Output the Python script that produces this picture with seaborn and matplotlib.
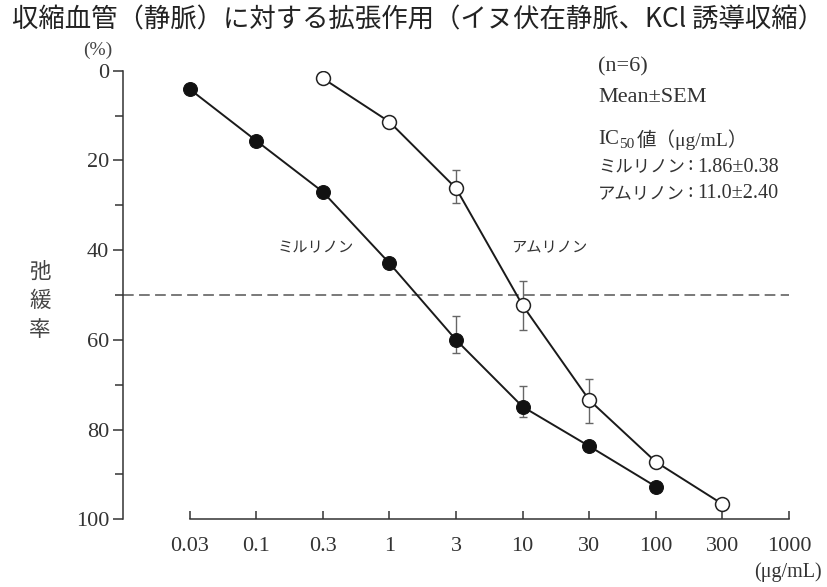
import matplotlib
matplotlib.use("Agg")
import matplotlib.pyplot as plt
import seaborn as sns
import pandas as pd

# doses (equally spaced on the chart)
doses = ["0.03", "0.1", "0.3", "1", "3", "10", "30", "100", "300", "1000"]

# milrinone (filled circles): 0.03 .. 100
mil_dose_idx = [0, 1, 2, 3, 4, 5, 6, 7]
mil_mean = [4.1, 15.6, 27.0, 42.9, 60.0, 74.9, 83.7, 92.7]
mil_err_low = [0, 0, 0, 0, 5.4, 4.6, 0, 0]
mil_err_high = [0, 0, 0, 0, 2.9, 2.2, 0, 0]

# amrinone (open circles): 0.3 .. 300
amr_dose_idx = [2, 3, 4, 5, 6, 7, 8]
amr_mean = [1.7, 11.4, 26.2, 52.3, 73.4, 87.2, 96.6]
amr_err_low = [0, 0, 4.1, 5.4, 4.7, 0, 0]
amr_err_high = [0, 0, 3.2, 5.4, 5.2, 0, 0]

W, H = 828, 587
sns.set_style("ticks")
plt.rcParams["font.family"] = ["Liberation Serif", "Noto Sans CJK JP", "DejaVu Sans"]
JP = ["Noto Sans CJK JP"]
TXT = "#333333"

fig = plt.figure(figsize=(W / 100, H / 100), dpi=100)
ax = fig.add_axes([123 / W, 1 - 519.3 / H, (789 - 123) / W, (519.3 - 70.7) / H])

mil = pd.DataFrame({"dose": mil_dose_idx, "rate": mil_mean})
amr = pd.DataFrame({"dose": amr_dose_idx, "rate": amr_mean})

# error bars behind the markers
ax.errorbar(mil_dose_idx, mil_mean, yerr=[mil_err_low, mil_err_high], fmt="none",
            ecolor="#666666", elinewidth=1, capsize=3, capthick=1, zorder=1)
ax.errorbar(amr_dose_idx, amr_mean, yerr=[amr_err_low, amr_err_high], fmt="none",
            ecolor="#666666", elinewidth=1, capsize=3, capthick=1, zorder=1)

sns.lineplot(data=mil, x="dose", y="rate", ax=ax, color="#1a1a1a", lw=1.4,
             marker="o", markersize=10, markerfacecolor="#111111",
             markeredgecolor="#111111", zorder=3)
sns.lineplot(data=amr, x="dose", y="rate", ax=ax, color="#1a1a1a", lw=1.4,
             marker="o", markersize=10, markerfacecolor="white",
             markeredgecolor="#222222", markeredgewidth=1.1, zorder=3)

ax.axhline(50, color="#555555", lw=1.1, dashes=(7, 3.5), zorder=0)

ax.set_xlim(-1, 9)
ax.set_ylim(100, 0)
ax.set_xticks(range(len(doses)))
ax.set_xticklabels(doses)
ax.set_yticks([0, 20, 40, 60, 80, 100])
ax.set_yticks([10, 30, 50, 70, 90], minor=True)
ax.tick_params(axis="y", which="major", direction="out", length=7, width=1.1,
               labelsize=16, pad=3, colors=TXT)
ax.tick_params(axis="y", which="minor", direction="out", length=6, width=1.1,
               colors=TXT)
ax.tick_params(axis="x", direction="in", length=6, width=1.1, labelsize=16,
               pad=13, colors=TXT)
ax.set_xlabel("")
ax.set_ylabel("")
sns.despine(ax=ax)
ax.spines["bottom"].set_bounds(0, 9)
for s in ("left", "bottom"):
    ax.spines[s].set_color(TXT)
    ax.spines[s].set_linewidth(1.1)


def ftext(x, y, s, **kw):
    kw.setdefault("color", TXT)
    kw.setdefault("va", "center")
    return fig.text(x / W, 1 - y / H, s, **kw)


# title and axis texts
ftext(W / 2 + 4, 20, "収縮血管（静脈）に対する拡張作用（イヌ伏在静脈、KCl 誘導収縮）",
      ha="center", fontsize=19, color="#222222", family=JP)
ftext(98, 50, "(%)", ha="center", fontsize=14, color="#444444")
ftext(40, 301, "弛\n緩\n率", ha="center", fontsize=15.5, color="#444444",
      linespacing=1.4, family=JP)
ftext(788, 572, "(μg/mL)", ha="center", fontsize=14.5)

# series labels
ax.text(1.9, 39.5, "ミルリノン", ha="center", va="center", fontsize=11,
        color=TXT, family=JP)
ax.text(5.4, 39.5, "アムリノン", ha="center", va="center", fontsize=11,
        color=TXT, family=JP)

# annotation block (top right)
ftext(598, 67, "(n=6)", ha="left", fontsize=16)
ftext(598, 97, "Mean±SEM", ha="left", fontsize=16)
ftext(598, 140, "IC", ha="left", fontsize=15)
ftext(619, 145, "50", ha="left", fontsize=11)
ftext(637, 140, "値（μg/mL）", ha="left", fontsize=14)
ftext(598, 167, "ミルリノン", ha="left", fontsize=12.5, family=JP)
ftext(687, 166, ":", ha="left", fontsize=14.5)
ftext(697, 167, "1.86±0.38", ha="left", fontsize=14.5)
ftext(598, 194, "アムリノン", ha="left", fontsize=12.5, family=JP)
ftext(687, 193, ":", ha="left", fontsize=14.5)
ftext(697, 194, "11.0±2.40", ha="left", fontsize=14.5)

fig.savefig("out.png", dpi=100)
